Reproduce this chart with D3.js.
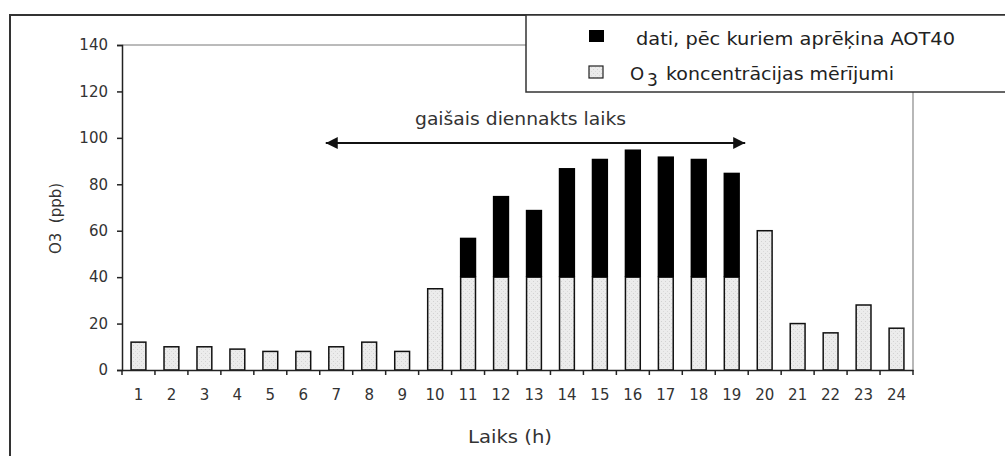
<!DOCTYPE html>
<html>
<head>
<meta charset="utf-8">
<script src="https://cdn.jsdelivr.net/npm/d3@7"></script>
<style>
  body { margin: 0; background: #fff; }
  svg text { font-family: "DejaVu Sans", Verdana, sans-serif; }
</style>
</head>
<body>
<svg id="chart" width="1005" height="456"></svg>
<script>
// data
const hours = ["1","2","3","4","5","6","7","8","9","10","11","12","13","14","15","16","17","18","19","20","21","22","23","24"];
const measured = [12, 10, 10, 9, 8, 8, 10, 12, 8, 35, 40, 40, 40, 40, 40, 40, 40, 40, 40, 60, 20, 16, 28, 18];
const aot40 = [0, 0, 0, 0, 0, 0, 0, 0, 0, 0, 17, 35, 29, 47, 51, 55, 52, 51, 45, 0, 0, 0, 0, 0];
const yTicks = [0, 20, 40, 60, 80, 100, 120, 140];
const legendLabels = ["dati, pēc kuriem aprēķina AOT40", "koncentrācijas mērījumi"];

const plotLeft = 122, plotRight = 913, plotTop = 45, plotBottom = 370;

const svg = d3.select("#chart");

// stipple pattern for the light bars
const defs = svg.append("defs");
const pat = defs.append("pattern")
  .attr("id", "dots")
  .attr("width", 4).attr("height", 4)
  .attr("patternUnits", "userSpaceOnUse");
pat.append("rect").attr("width", 4).attr("height", 4).attr("fill", "#ececec");
pat.append("rect").attr("x", 1).attr("y", 1).attr("width", 1).attr("height", 1).attr("fill", "#d2d2d2");
pat.append("rect").attr("x", 3).attr("y", 3).attr("width", 1).attr("height", 1).attr("fill", "#dadada");

const x = d3.scaleBand()
  .domain(hours)
  .range([plotLeft, plotRight]);

const y = d3.scaleLinear()
  .domain([0, 140])
  .range([plotBottom, plotTop]);

// outer frame
svg.append("rect")
  .attr("x", 10).attr("y", 15)
  .attr("width", 1010).attr("height", 460)
  .attr("fill", "none")
  .attr("stroke", "#333")
  .attr("stroke-width", 2);

// plot area border (top + right)
svg.append("line")
  .attr("x1", plotLeft).attr("x2", plotRight)
  .attr("y1", y(140)).attr("y2", y(140))
  .attr("stroke", "#777").attr("stroke-width", 1);
svg.append("line")
  .attr("x1", plotRight).attr("x2", plotRight)
  .attr("y1", y(140)).attr("y2", y(0))
  .attr("stroke", "#888").attr("stroke-width", 1.2);

// bars
const bw = x.bandwidth() * 0.45;
const barX = d => x(d) + (x.bandwidth() - bw) / 2;

svg.append("g").selectAll("rect")
  .data(hours)
  .join("rect")
  .attr("x", d => barX(d))
  .attr("y", (d, i) => y(measured[i]))
  .attr("width", bw)
  .attr("height", (d, i) => y(0) - y(measured[i]))
  .attr("fill", "url(#dots)")
  .attr("stroke", "#111")
  .attr("stroke-width", 1.5);

svg.append("g").selectAll("rect")
  .data(hours.filter((d, i) => aot40[i] > 0))
  .join("rect")
  .attr("x", d => barX(d) - 0.75)
  .attr("y", d => y(measured[hours.indexOf(d)] + aot40[hours.indexOf(d)]))
  .attr("width", bw + 1.5)
  .attr("height", d => y(measured[hours.indexOf(d)]) - y(measured[hours.indexOf(d)] + aot40[hours.indexOf(d)]))
  .attr("fill", "#000");

// axes
const yAxis = svg.append("g")
  .attr("transform", `translate(${plotLeft},0)`)
  .call(d3.axisLeft(y).tickValues(yTicks).tickSize(5).tickPadding(9));
const xAxis = svg.append("g")
  .attr("transform", `translate(0,${plotBottom})`)
  .call(d3.axisBottom(x).tickSize(0).tickPadding(19));

// x ticks sit on band edges
svg.append("g").selectAll("line")
  .data(hours)
  .join("line")
  .attr("x1", d => x(d) + x.bandwidth()).attr("x2", d => x(d) + x.bandwidth())
  .attr("y1", plotBottom).attr("y2", plotBottom + 5)
  .attr("stroke", "#222").attr("stroke-width", 1.5);
svg.append("line")
  .attr("x1", plotLeft).attr("x2", plotLeft)
  .attr("y1", plotBottom).attr("y2", plotBottom + 5)
  .attr("stroke", "#222").attr("stroke-width", 1.5);

[yAxis, xAxis].forEach(g => {
  g.select(".domain").attr("stroke", "#222").attr("stroke-width", 1.5);
  g.selectAll(".tick line").attr("stroke", "#222").attr("stroke-width", 1.5);
  g.selectAll("text").attr("font-size", 15).attr("fill", "#333");
});

// axis titles
svg.append("text")
  .attr("transform", "translate(61,218.5) rotate(-90)")
  .attr("text-anchor", "middle")
  .attr("font-size", 15)
  .attr("fill", "#333")
  .attr("xml:space", "preserve")
  .attr("textLength", 71)
  .attr("lengthAdjust", "spacingAndGlyphs")
  .text("O3  (ppb)");

svg.append("text")
  .attr("x", 510).attr("y", 443)
  .attr("text-anchor", "middle")
  .attr("font-size", 18)
  .attr("fill", "#333")
  .attr("textLength", 84)
  .attr("lengthAdjust", "spacingAndGlyphs")
  .text("Laiks (h)");

// daylight arrow
defs.append("marker")
  .attr("id", "head")
  .attr("viewBox", "0 0 10 10")
  .attr("refX", 10).attr("refY", 5)
  .attr("markerWidth", 6).attr("markerHeight", 6)
  .attr("markerUnits", "strokeWidth")
  .attr("orient", "auto-start-reverse")
  .append("path")
  .attr("d", "M0,0 L10,5 L0,10 Z")
  .attr("fill", "#111");

svg.append("line")
  .attr("x1", x("7") + 6).attr("x2", x("19") + x.bandwidth() - 3)
  .attr("y1", 143).attr("y2", 143)
  .attr("stroke", "#111").attr("stroke-width", 2)
  .attr("marker-start", "url(#head)")
  .attr("marker-end", "url(#head)");

svg.append("text")
  .attr("x", 520.5).attr("y", 125)
  .attr("text-anchor", "middle")
  .attr("font-size", 18)
  .attr("fill", "#333")
  .attr("textLength", 211)
  .attr("lengthAdjust", "spacingAndGlyphs")
  .text("gaišais diennakts laiks");

// legend
const lg = svg.append("g");
lg.append("rect")
  .attr("x", 526).attr("y", 15)
  .attr("width", 500).attr("height", 77)
  .attr("fill", "#fff")
  .attr("stroke", "#333").attr("stroke-width", 1.5);

lg.append("rect")
  .attr("x", 589).attr("y", 30)
  .attr("width", 15).attr("height", 12)
  .attr("fill", "#000");
lg.append("text")
  .attr("x", 636).attr("y", 45)
  .attr("font-size", 18)
  .attr("fill", "#222")
  .attr("textLength", 319)
  .attr("lengthAdjust", "spacingAndGlyphs")
  .text(legendLabels[0]);

lg.append("rect")
  .attr("x", 589).attr("y", 66)
  .attr("width", 14).attr("height", 12)
  .attr("fill", "url(#dots)")
  .attr("stroke", "#222").attr("stroke-width", 1.2);
lg.append("text")
  .attr("x", 630).attr("y", 80)
  .attr("font-size", 18)
  .attr("fill", "#222")
  .text("O");
lg.append("text")
  .attr("x", 647).attr("y", 86)
  .attr("font-size", 17)
  .attr("fill", "#222")
  .text("3");
lg.append("text")
  .attr("x", 666).attr("y", 80)
  .attr("font-size", 18)
  .attr("fill", "#222")
  .attr("textLength", 228)
  .attr("lengthAdjust", "spacingAndGlyphs")
  .text(legendLabels[1]);
</script>
</body>
</html>
